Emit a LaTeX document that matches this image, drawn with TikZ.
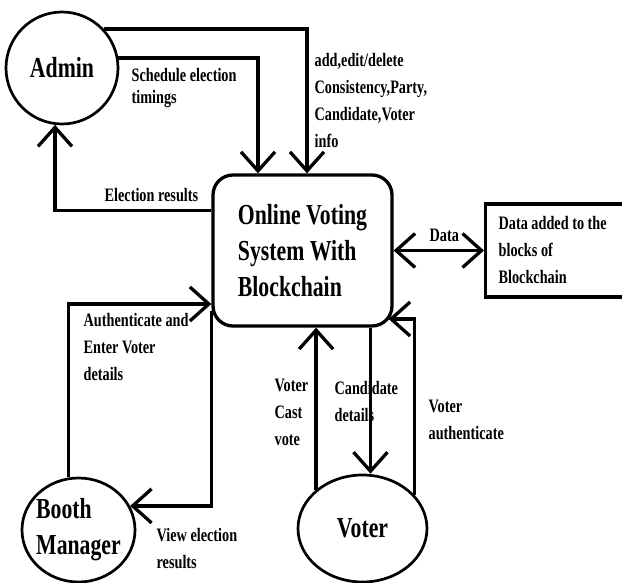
\documentclass[tikz,border=0pt]{standalone}
\usepackage{fontspec}
\setmainfont{Liberation Serif}[FakeStretch=0.75]
\usetikzlibrary{arrows.meta,shapes.geometric}

\begin{document}
\begin{tikzpicture}[x=1pt,y=-1pt,line width=3.3pt,
    >={Straight Barb[length=19pt,width=34pt]},
    actor/.style={draw,ellipse,line width=2.7pt,inner sep=0pt},
    big/.style={font=\fontsize{29}{36}\selectfont\bfseries},
    lbl/.style={anchor=north west,inner sep=0pt,align=left,font=\fontsize{19}{27}\selectfont\bfseries}]
    \clip (0,0) rectangle (622,583);

    % entities
    \node[actor,big,minimum width=112,minimum height=112] (admin) at (62,68) {Admin};
    \node[actor,minimum width=113,minimum height=104] (booth) at (78.5,530) {};
    \node[big,align=left,inner sep=0pt] (boothtxt) at (booth) {Booth\\Manager};
    \node[actor,big,minimum width=129,minimum height=107] (voter) at (362.5,528.5) {Voter};

    \node[draw,big,rounded corners=20pt,minimum width=179,minimum height=151,align=left] (ovs) at (302.5,250.5) {Online Voting\\System With\\Blockchain};
    \node[draw,anchor=west,minimum width=170,minimum height=93,inner xsep=13pt,text width=144,align=flush left,
          font=\fontsize{19}{27}\selectfont\bfseries] (chain) at (484,250.5) {Data added to the\\blocks of\\Blockchain};

    % flows
    \draw[->] (admin.43) -| ([xshift=4.5pt]ovs.north);
    \draw[->] (admin.10) -| ([xshift=-44.5pt]ovs.north);
    \draw[->] ([yshift=40pt]ovs.west) -| (admin.263);
    \draw[<->] (ovs.east) -- (chain.west);
    \draw[->] (booth.101) |- ([yshift=-53.5pt]ovs.west);
    \draw[->] ([yshift=-60pt]ovs.west) |- (booth.25);
    \draw[->] (voter.140) -- (voter.140 |- ovs.south);
    \draw[->] ([xshift=68pt]ovs.south) -- ([xshift=68pt]ovs.south |- voter.north);
    \draw[->] (voter.33) |- ([xshift=-5pt,yshift=-68.5pt]ovs.east);

    % labels
    \node[lbl] (addlbl) at (313,52) {add,edit/delete\\Consistency,Party,\\Candidate,Voter\\info};
    \node[lbl,font=\fontsize{19}{22}\selectfont\bfseries] (schedlbl) at (130,67) {Schedule election\\timings};
    \node[lbl] (reslbl) at (103,187) {Election results};
    \node[lbl] (datalbl) at (428,227) {Data};
    \node[lbl] (authlbl) at (82,312) {Authenticate and\\Enter Voter\\details};
    \node[lbl] (viewlbl) at (155,527) {View election\\results};
    \node[lbl] (castlbl) at (273,377) {Voter\\Cast\\vote};
    \node[lbl] (candlbl) at (333,380) {Candidate\\details};
    \node[lbl] (authvlbl) at (427,398) {Voter\\authenticate};
\end{tikzpicture}
\end{document}
